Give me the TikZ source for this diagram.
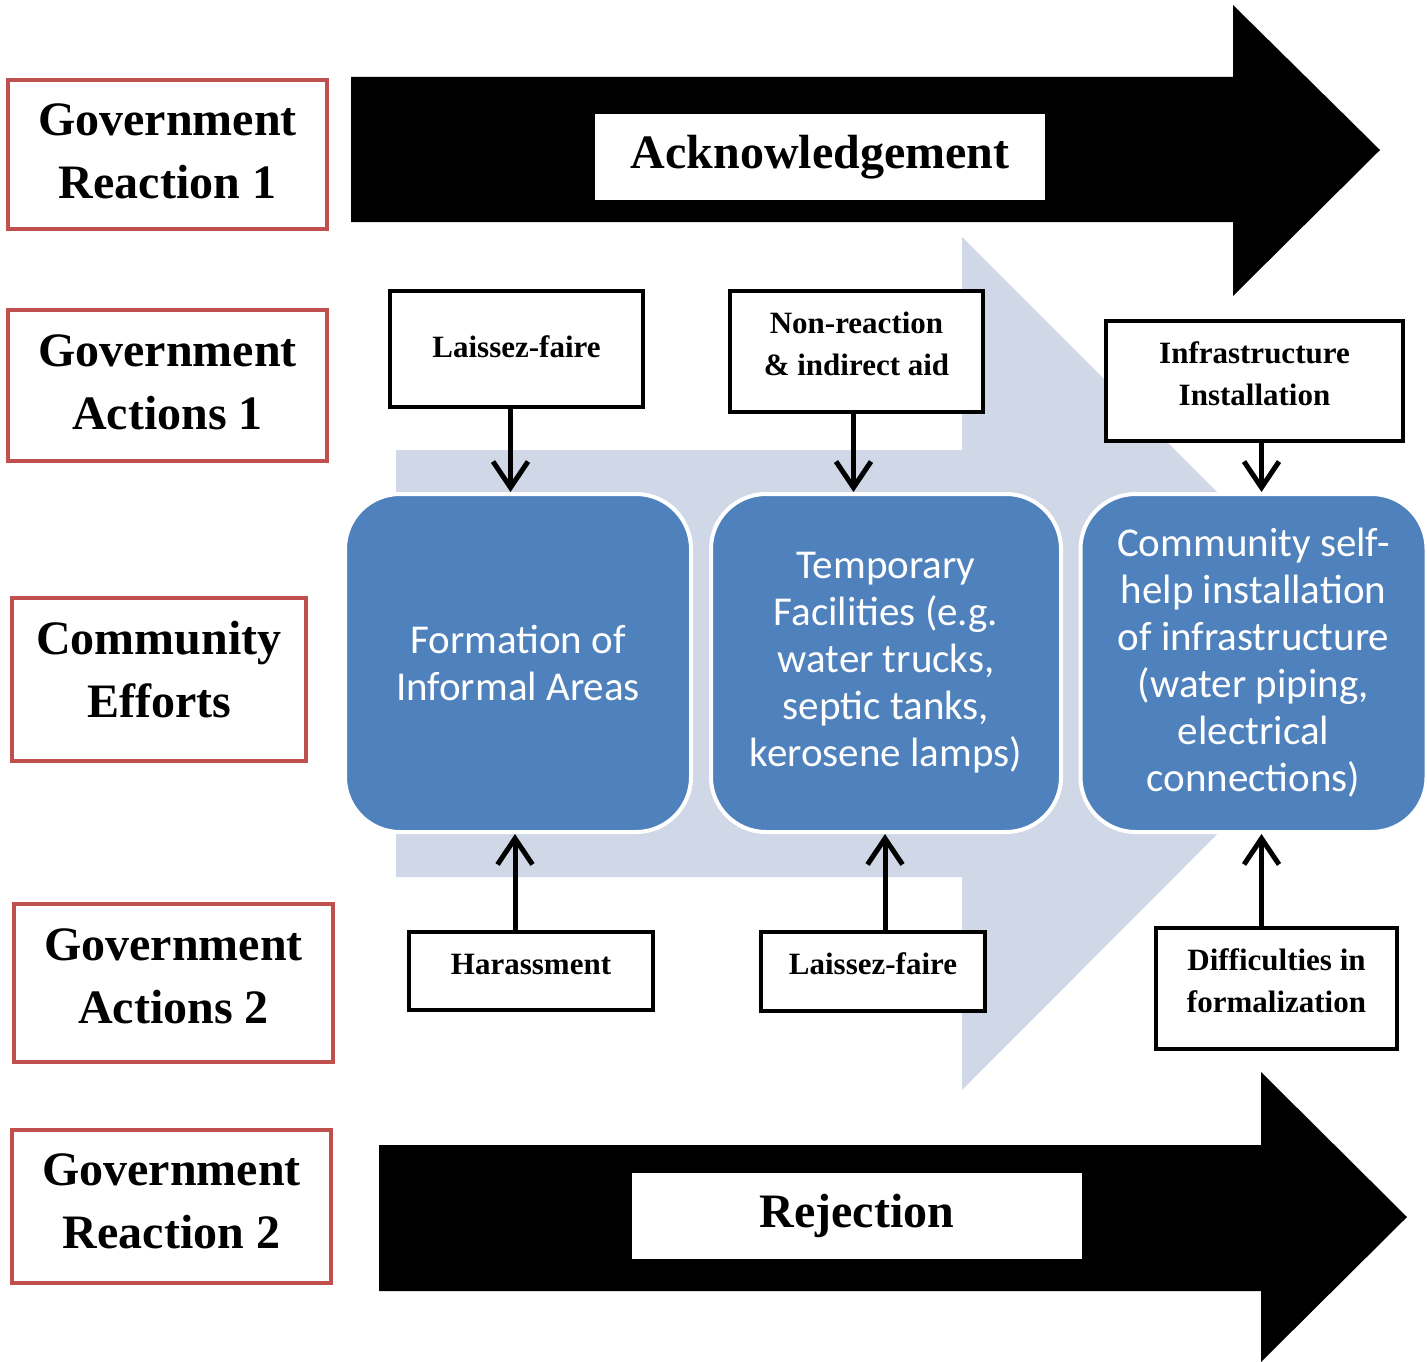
\documentclass[tikz,border=0pt]{standalone}
\usepackage{fontspec}
\setmainfont{Liberation Serif}
\newfontfamily\calibri{Carlito}
\usetikzlibrary{arrows.meta}

\definecolor{stepblue}{HTML}{4F81BD}
\definecolor{paleblue}{HTML}{D0D8E8}
\definecolor{rowred}{HTML}{C0504D}

\tikzset{
  rowlabel/.style={draw=rowred, line width=4pt, align=center, inner sep=0pt,
    font=\bfseries\fontsize{48}{63}\selectfont},
  actbox/.style={draw=black, line width=4pt, fill=white, align=center, inner sep=0pt,
    font=\bfseries\fontsize{31}{42}\selectfont},
  stepbox/.style={draw=white, line width=4pt, fill=stepblue, rounded corners=55pt,
    minimum width=346pt, minimum height=338pt, align=center, inner sep=0pt,
    text=white, font=\calibri\fontsize{41}{47}\selectfont},
  tagbox/.style={fill=white, minimum width=450pt, minimum height=86pt, inner sep=0pt,
    font=\bfseries\fontsize{48}{58}\selectfont},
  lift/.style={execute at end node={\rule[-#1]{0pt}{0pt}}},
  flow/.style={line width=5pt, -{Straight Barb[length=26pt,width=35pt]}}
}

\begin{document}
\begin{tikzpicture}[x=1pt, y=-1pt]
	\useasboundingbox (0,0) rectangle (1427,1362);
	% big arrows in the back
	\fill[paleblue] (396,450) -- (962,450) -- (962,237) -- (1388,663) -- (962,1090) -- (962,877) -- (396,877) -- cycle;
	\fill[black] (351,77) -- (1233,77) -- (1233,5) -- (1380,150) -- (1233,296) -- (1233,222) -- (351,222) -- cycle;
	\fill[black] (379,1145) -- (1261,1145) -- (1261,1072) -- (1407,1217) -- (1261,1362) -- (1261,1291) -- (379,1291) -- cycle;
	\node[tagbox] (ack) at (820,157) {Acknowledgement};
	\node[tagbox] (rej) at (857,1216) {Rejection};

	% row labels
	\node[rowlabel, lift=6pt, minimum width=319pt, minimum height=149pt] (react1) at (167.5,154.5) {Government\\Reaction 1};
	\node[rowlabel, lift=6pt, minimum width=319pt, minimum height=151pt] (act1) at (167.5,385.5) {Government\\Actions 1};
	\node[rowlabel, lift=20pt, minimum width=294pt, minimum height=163pt] (effort) at (159,679.5) {Community\\Efforts};
	\node[rowlabel, lift=14pt, minimum width=319pt, minimum height=158pt] (act2) at (173.5,983) {Government\\Actions 2};
	\node[rowlabel, lift=10pt, minimum width=319pt, minimum height=153pt] (react2) at (171.5,1206.5) {Government\\Reaction 2};

	% community steps
	\node[stepbox] (form) at (518,663) {Formation of\\Informal Areas};
	\node[stepbox, minimum width=350pt] (temp) at (886,663) {Temporary\\Facilities (e.g.\\water trucks,\\septic tanks,\\kerosene lamps)};
	\node[stepbox] (selfhelp) at (1253.5,663) {Community self-\\help installation\\of infrastructure\\(water piping,\\electrical\\connections)};

	% government actions
	\node[actbox, lift=4pt, minimum width=253pt, minimum height=116pt] (laissez1) at (516.5,349) {Laissez-faire};
	\node[actbox, lift=16pt, minimum width=253pt, minimum height=121pt] (noreact) at (856.5,351.5) {Non-reaction\\\& indirect aid};
	\node[actbox, lift=14pt, minimum width=297pt, minimum height=120pt] (infra) at (1254.5,381) {Infrastructure\\Installation};
	\node[actbox, lift=14pt, minimum width=244pt, minimum height=78pt] (harass) at (531,971) {Harassment};
	\node[actbox, lift=16pt, minimum width=224pt, minimum height=79pt] (laissez2) at (873,971.5) {Laissez-faire};
	\node[actbox, lift=16pt, minimum width=241pt, minimum height=121pt] (difficult) at (1276.5,988.5) {Difficulties in\\formalization};

	\draw[flow] ([xshift=-6pt]laissez1.south) -- ([xshift=-6pt]laissez1.south |- form.north);
	\draw[flow] ([xshift=-3pt]noreact.south) -- ([xshift=-3pt]noreact.south |- temp.north);
	\draw[flow] ([xshift=7pt]infra.south) -- ([xshift=7pt]infra.south |- selfhelp.north);
	\draw[flow] ([xshift=-16pt]harass.north) -- ([xshift=-16pt]harass.north |- form.south);
	\draw[flow] ([xshift=12pt]laissez2.north) -- ([xshift=12pt]laissez2.north |- temp.south);
	\draw[flow] ([xshift=-15pt]difficult.north) -- ([xshift=-15pt]difficult.north |- selfhelp.south);
\end{tikzpicture}
\end{document}
